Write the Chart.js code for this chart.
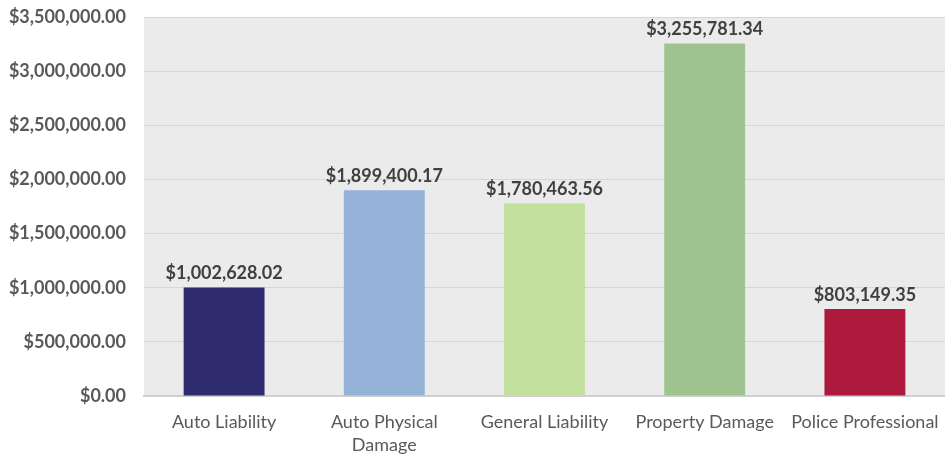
<!DOCTYPE html>
<html>
<head>
<meta charset="utf-8">
<script src="https://cdn.jsdelivr.net/npm/chart.js@4.4.0/dist/chart.umd.min.js"></script>
<style>
  html, body { margin: 0; padding: 0; background: #fff; }
  #wrap { width: 945px; height: 455px; position: relative; }
</style>
</head>
<body>
<div id="wrap"><canvas id="c"></canvas></div>
<script>
// данные с картинки
const categories = ['Auto Liability', ['Auto Physical', 'Damage'], 'General Liability', 'Property Damage', 'Police Professional'];
const values = [1002628.02, 1899400.17, 1780463.56, 3255781.34, 803149.35];
const barColors = ['#2e2b6f', '#95b3d9', '#c4e09e', '#9fc48f', '#ae1a3e'];
const yMax = 3500000;
const yStep = 500000;

const money = v => '$' + v.toLocaleString('en-US', { minimumFractionDigits: 2, maximumFractionDigits: 2 });
const FONT = 'Lato, "Open Sans", sans-serif';

// серый фон области графика
const plotBg = {
    id: 'plotBg',
    beforeDraw(chart) {
        const a = chart.chartArea;
        const ctx = chart.ctx;
        ctx.save();
        ctx.fillStyle = '#ebebeb';
        ctx.fillRect(a.left, a.top, a.right - a.left, a.bottom - a.top);
        ctx.restore();
    }
};

// подписи над столбцами
const valueLabels = {
    id: 'valueLabels',
    afterDatasetsDraw(chart) {
        const ctx = chart.ctx;
        const meta = chart.getDatasetMeta(0);
        ctx.save();
        ctx.font = 'bold 18px ' + FONT;
        ctx.fillStyle = '#404040';
        ctx.textAlign = 'center';
        ctx.textBaseline = 'bottom';
        meta.data.forEach((bar, i) => {
            ctx.fillText(money(values[i]), bar.x, bar.y - 5);
        });
        ctx.restore();
    }
};

new Chart(document.getElementById('c'), {
    type: 'bar',
    data: {
        labels: categories,
        datasets: [{
            data: values,
            backgroundColor: barColors,
            categoryPercentage: 1,
            barPercentage: 0.505
        }]
    },
    options: {
        responsive: true,
        maintainAspectRatio: false,
        animation: false,
        layout: { padding: { top: 17, right: 0, left: 0, bottom: 0 } },
        plugins: {
            legend: { display: false },
            tooltip: { enabled: false }
        },
        scales: {
            x: {
                grid: { display: false },
                border: { display: true, color: '#d0d0d0', width: 2 },
                ticks: {
                    color: '#595959',
                    font: { family: FONT, size: 18, lineHeight: 1.3 },
                    maxRotation: 0,
                    padding: 6
                },
                afterFit(scale) {
                    scale.height = 59;
                    scale.paddingLeft = 0;
                    scale.paddingRight = 0;
                }
            },
            y: {
                min: 0,
                max: yMax,
                ticks: {
                    stepSize: yStep,
                    color: '#595959',
                    font: { family: FONT, size: 18, weight: 'bold' },
                    padding: 18,
                    callback: v => money(v)
                },
                grid: { color: '#d6d6d6', drawTicks: false },
                border: { display: false },
                afterFit(scale) {
                    scale.width = 144;
                    scale.paddingTop = 0;
                    scale.paddingBottom = 0;
                }
            }
        }
    },
    plugins: [plotBg, valueLabels]
});
</script>
</body>
</html>
